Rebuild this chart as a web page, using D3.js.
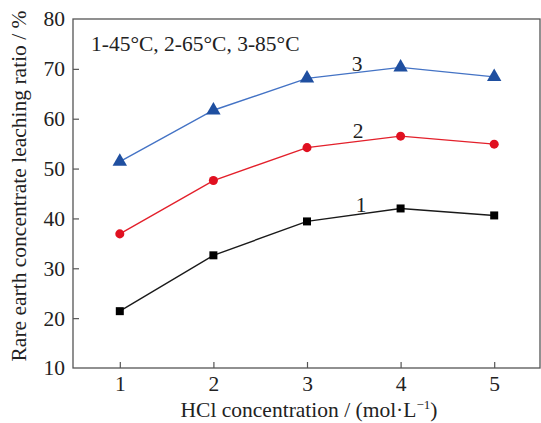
<!DOCTYPE html>
<html lang="en">
<head>
<meta charset="UTF-8">
<title>Leaching ratio vs HCl concentration</title>
<script src="https://cdn.jsdelivr.net/npm/d3@7"></script>
<style>
    body { margin: 0; background: #fff; }
    svg text { font-family: "Liberation Serif", "DejaVu Serif", serif; fill: #222; }
</style>
</head>
<body>
<div id="chart"></div>
<script>
    // data
    const concentration = [1, 2, 3, 4, 5];
    const series1 = [21.4, 32.6, 39.4, 42.0, 40.6];   // 45°C
    const series2 = [36.9, 47.6, 54.2, 56.5, 54.9];   // 65°C
    const series3 = [51.4, 61.7, 68.1, 70.3, 68.4];   // 85°C
    const yTicks = [10, 20, 30, 40, 50, 60, 70, 80];

    const width = 541, height = 423;
    const plotLeft = 73, plotRight = 540, plotTop = 19, plotBottom = 368;
    const fs = 21.5;

    const svg = d3.select("#chart").append("svg")
        .attr("width", width).attr("height", height);

    const x = d3.scaleLinear().domain([0.5, 5.5]).range([plotLeft, plotRight + 1]);
    const y = d3.scaleLinear().domain([10, 80]).range([plotBottom, plotTop]);

    // frame
    svg.append("rect")
        .attr("x", plotLeft).attr("y", plotTop)
        .attr("width", plotRight - plotLeft).attr("height", plotBottom - plotTop)
        .attr("fill", "none").attr("stroke", "#555").attr("stroke-width", 1.3);

    // axes with inward ticks
    const xAxis = svg.append("g")
        .attr("transform", `translate(0,${plotBottom})`)
        .call(d3.axisBottom(x).tickValues(concentration).tickFormat(d3.format("d"))
            .tickSize(-6).tickPadding(8));
    const yAxis = svg.append("g")
        .attr("transform", `translate(${plotLeft},0)`)
        .call(d3.axisLeft(y).tickValues(yTicks).tickFormat(d3.format("d"))
            .tickSize(-6).tickPadding(8));

    [xAxis, yAxis].forEach(g => {
        g.select(".domain").remove();
        g.selectAll(".tick line").attr("stroke", "#555").attr("stroke-width", 1.2);
        g.selectAll(".tick text").attr("font-size", fs).attr("fill", "#222")
            .style("font-family", "'Liberation Serif', serif");
    });
    // tick marks at 80 and 10 sit on the frame
    yAxis.selectAll(".tick").filter(d => d === 80 || d === 10).select("line").remove();

    // axis titles
    svg.append("text")
        .attr("x", 309).attr("y", 417)
        .attr("text-anchor", "middle").attr("font-size", fs)
        .html("HCl concentration / (mol·L<tspan font-size='13' dy='-8'>−1</tspan><tspan dy='8'>)</tspan>");
    svg.append("text")
        .attr("transform", "translate(26,186) rotate(-90)")
        .attr("text-anchor", "middle").attr("font-size", fs)
        .text("Rare earth concentrate leaching ratio / %");

    svg.append("text")
        .attr("x", 91).attr("y", 51).attr("font-size", fs)
        .text("1-45°C, 2-65°C, 3-85°C");

    const line = d3.line().x((d, i) => x(concentration[i])).y(d => y(d));

    const styles = [
        { data: series1, color: "#1a1a1a", fill: "#000", shape: d3.symbolSquare, size: 64, label: "1", lx: 361, ly: 212 },
        { data: series2, color: "#e3202b", fill: "#e01020", shape: d3.symbolCircle, size: 64, label: "2", lx: 358, ly: 138 },
        { data: series3, color: "#4473c5", fill: "#1f4fa0", shape: d3.symbolTriangle, size: 90, label: "3", lx: 357, ly: 71 }
    ];

    styles.forEach(s => {
        svg.append("path")
            .datum(s.data)
            .attr("d", line)
            .attr("fill", "none")
            .attr("stroke", s.color)
            .attr("stroke-width", 1.4);
        svg.append("g").selectAll("path")
            .data(s.data)
            .enter().append("path")
            .attr("d", d3.symbol().type(s.shape).size(s.size))
            .attr("transform", (d, i) => `translate(${x(concentration[i])},${y(d)})`)
            .attr("fill", s.fill);
        svg.append("text")
            .attr("x", s.lx).attr("y", s.ly)
            .attr("text-anchor", "middle").attr("font-size", fs)
            .text(s.label);
    });
</script>
</body>
</html>
